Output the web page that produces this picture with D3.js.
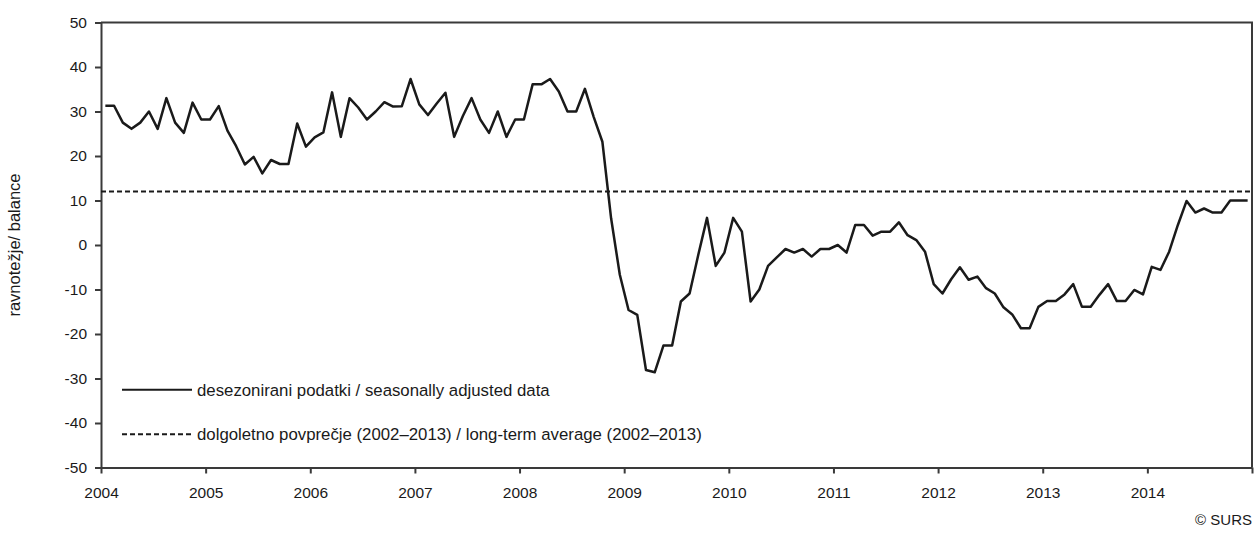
<!DOCTYPE html>
<html>
<head>
<meta charset="utf-8">
<script src="https://cdn.jsdelivr.net/npm/d3@7"></script>
<style>
  body { margin: 0; background: #fff; }
  svg { display: block; font-family: "Liberation Sans", Arial, sans-serif; }
</style>
</head>
<body>
<svg id="chart"></svg>
<script>
// monthly balance, Jan 2004 - Dec 2014
var values2004_2006 = [31.3, 31.3, 27.5, 26.1, 27.5, 30.0, 26.1, 33.0, 27.5, 25.2, 32.0, 28.2,
                       28.2, 31.2, 25.7, 22.2, 18.1, 19.8, 16.1, 19.1, 18.2, 18.2, 27.3, 22.1,
                       24.2, 25.3, 34.3, 24.3, 33.0, 30.9, 28.2, 30.0, 32.1, 31.1, 31.2, 37.3];
var values2007_2009 = [31.6, 29.2, 31.8, 34.2, 24.3, 29.0, 33.0, 28.2, 25.2, 30.0, 24.3, 28.2,
                       28.2, 36.1, 36.1, 37.3, 34.5, 30.0, 30.0, 35.1, 28.8, 23.2, 6.0, -6.7,
                       -14.6, -15.7, -28.1, -28.6, -22.6, -22.6, -12.7, -10.9, -2.2, 6.1, -4.7, -1.7];
var values2010_2012 = [6.1, 3.0, -12.7, -10.0, -4.7, -2.8, -0.9, -1.7, -0.9, -2.6, -0.9, -0.9,
                       0.0, -1.7, 4.5, 4.5, 2.1, 3.0, 3.0, 5.1, 2.2, 1.1, -1.5, -8.8,
                       -10.9, -7.7, -5.0, -7.8, -7.1, -9.7, -10.9, -14.0, -15.6, -18.7, -18.7, -13.9];
var values2013_2014 = [-12.6, -12.6, -11.1, -8.8, -13.9, -13.9, -11.2, -8.8, -12.6, -12.6, -10.1, -11.1,
                       -4.9, -5.6, -1.5, 4.5, 9.9, 7.3, 8.2, 7.3, 7.3, 10.0, 10.0, 10.0];
var longTermAverage = 12;
var years = [2004, 2005, 2006, 2007, 2008, 2009, 2010, 2011, 2012, 2013, 2014];
var yTicks = [50, 40, 30, 20, 10, 0, -10, -20, -30, -40, -50];
var legendLabels = ["desezonirani podatki / seasonally adjusted data",
                    "dolgoletno povprečje (2002\u20132013) / long-term average (2002\u20132013)"];

var series = values2004_2006.concat(values2007_2009, values2010_2012, values2013_2014);

var svgWidth = 1255, svgHeight = 538;
var margin = { top: 22.5, right: 3, bottom: 70.5, left: 101 };
var width = svgWidth - margin.left - margin.right;
var height = svgHeight - margin.top - margin.bottom;

var svg = d3.select("#chart")
  .attr("width", svgWidth)
  .attr("height", svgHeight);

var g = svg.append("g")
  .attr("transform", "translate(" + margin.left + "," + margin.top + ")");

// x in months since Jan 2004, points sit in the middle of each month slot
var x = d3.scaleLinear().domain([0, 132]).range([0, width]);
var y = d3.scaleLinear().domain([-50, 50]).range([height, 0]);

var axisColor = "#3a3a3a";

// frame (top and right)
g.append("path")
  .attr("d", "M0,0H" + width + "V" + height)
  .attr("fill", "none")
  .attr("stroke", axisColor)
  .attr("stroke-width", 2);

var yAxis = g.append("g")
  .call(d3.axisLeft(y).tickValues(yTicks)
    .tickFormat(function(d) { return String(d); }) // plain hyphen like the original
    .tickSizeOuter(0).tickSizeInner(6).tickPadding(8));

var xAxis = g.append("g")
  .attr("transform", "translate(0," + height + ")")
  .call(d3.axisBottom(x)
    .tickValues(years.map(function(d, i) { return i * 12; }).concat([132]))
    .tickFormat(function(d) { return d < 132 ? years[d / 12] : ""; })
    .tickSizeOuter(0).tickSizeInner(6).tickPadding(13));

[yAxis, xAxis].forEach(function(a) {
  a.selectAll(".domain").attr("stroke", axisColor).attr("stroke-width", 2);
  a.selectAll(".tick line").attr("stroke", axisColor).attr("stroke-width", 2);
  a.selectAll(".tick text")
    .attr("fill", "#1a1a1a")
    .style("font-size", "15.5px");
});

// long-term average
g.append("line")
  .attr("x1", 0).attr("x2", width)
  .attr("y1", y(longTermAverage)).attr("y2", y(longTermAverage))
  .attr("stroke", "#1a1a1a")
  .attr("stroke-width", 2)
  .attr("stroke-dasharray", "5,3");

var line = d3.line()
  .x(function(d, i) { return x(i + 0.5); })
  .y(function(d) { return y(d); });

g.append("path")
  .datum(series)
  .attr("fill", "none")
  .attr("stroke", "#1a1a1a")
  .attr("stroke-width", 2.5)
  .attr("stroke-linejoin", "round")
  .attr("d", line);

// legend
var legend = g.append("g").attr("transform", "translate(21,0)");
var legendY = [y(-32.5), y(-42.5)];
legendLabels.forEach(function(label, i) {
  legend.append("line")
    .attr("x1", 0).attr("x2", 70)
    .attr("y1", legendY[i]).attr("y2", legendY[i])
    .attr("stroke", "#1a1a1a")
    .attr("stroke-width", 2)
    .attr("stroke-dasharray", i == 1 ? "5,3" : null);
  legend.append("text")
    .attr("x", 75)
    .attr("y", legendY[i])
    .attr("dy", "0.35em")
    .attr("fill", "#1a1a1a")
    .style("font-size", "16.8px")
    .text(label);
});

// y axis title
svg.append("text")
  .attr("transform", "translate(20," + (margin.top + height / 2) + ") rotate(-90)")
  .attr("text-anchor", "middle")
  .attr("fill", "#1a1a1a")
  .style("font-size", "16.5px")
  .text("ravnotežje/ balance");

svg.append("text")
  .attr("x", 1252)
  .attr("y", 525)
  .attr("text-anchor", "end")
  .attr("fill", "#1a1a1a")
  .style("font-size", "15px")
  .text("© SURS");
</script>
</body>
</html>
